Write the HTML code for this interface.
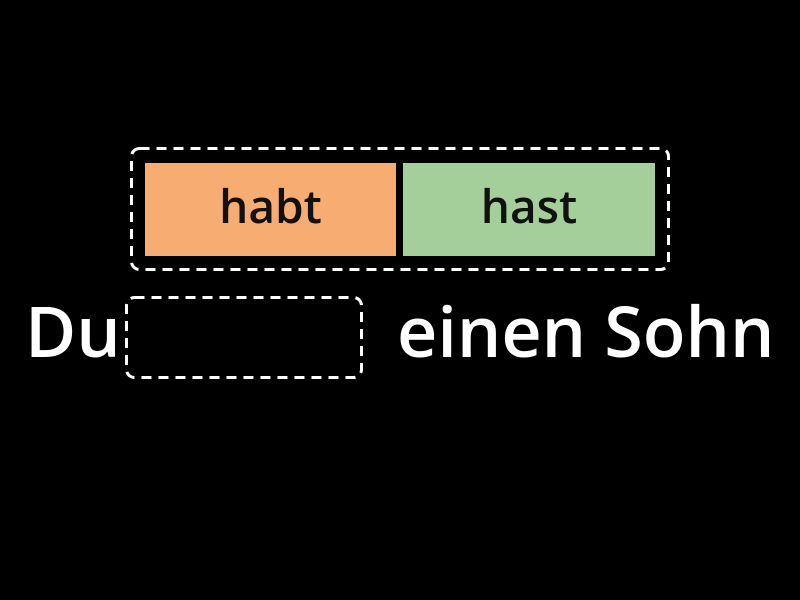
<!DOCTYPE html>
<html><head><style>
body{margin:0;width:800px;height:600px;background:#000;overflow:hidden;position:relative;font-family:"Open Sans","DejaVu Sans","Liberation Sans",sans-serif;}
.b{position:absolute;color:#111;font-size:46px;font-weight:600;text-align:center;line-height:86px;}
.t{position:absolute;color:#fff;font-size:70px;font-weight:600;line-height:1;white-space:nowrap;}
svg{position:absolute;left:0;top:0;}
</style></head><body>
<div class="b" style="left:145px;top:163px;width:251px;height:93px;background:#f7ac72;">habt</div>
<div class="b" style="left:403px;top:163px;width:252px;height:93px;background:#a5cf9a;">hast</div>
<div class="t" style="left:25px;top:295px;">Du</div>
<div class="t" style="left:397px;top:295px;">einen Sohn</div>
<svg width="800" height="600">
<rect x="131.5" y="148.5" width="537" height="121" rx="8" fill="none" stroke="#fff" stroke-width="3" stroke-dasharray="10 7"/>
<rect x="126.5" y="297.5" width="235" height="80" rx="8" fill="none" stroke="#fff" stroke-width="3" stroke-dasharray="10 7"/>
</svg>
</body></html>
